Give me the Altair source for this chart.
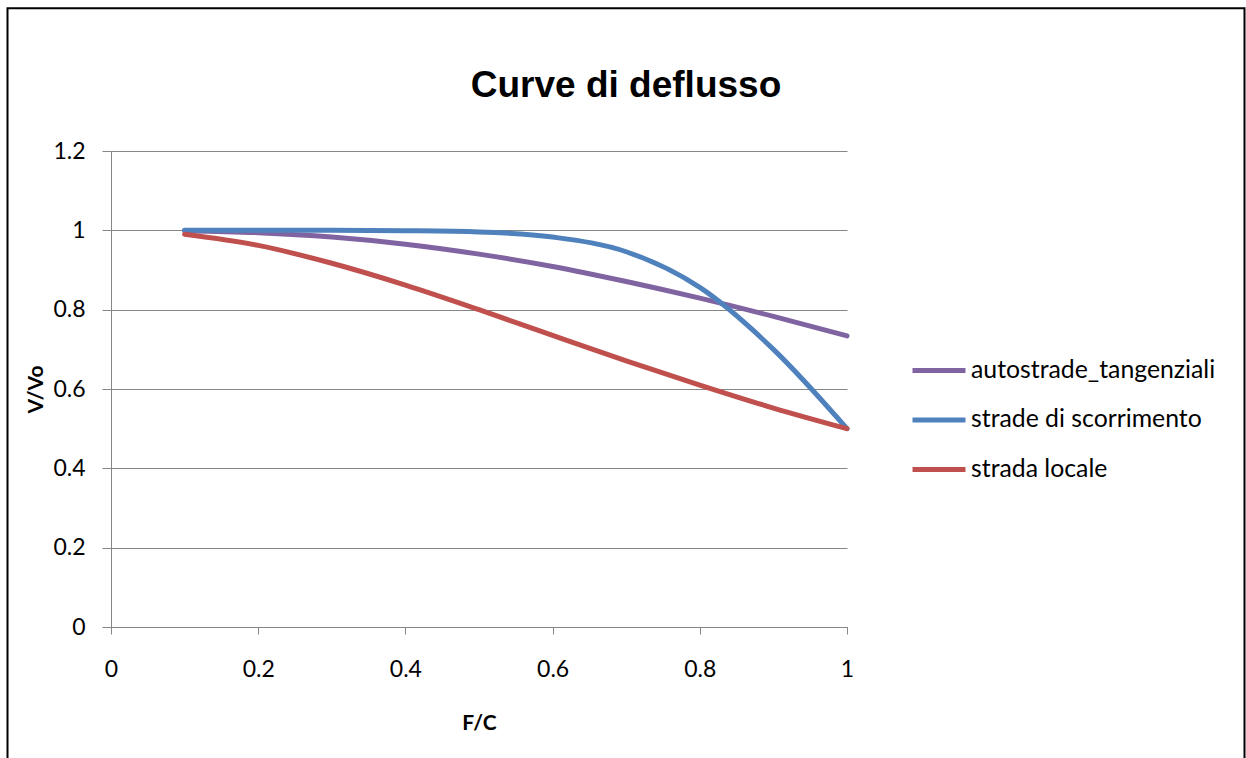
import altair as alt
import pandas as pd

# Flow ratio F/C sampled at 0.1 steps
fc = [0.1, 0.2, 0.3, 0.4, 0.5, 0.6, 0.7, 0.8, 0.9, 1.0]

# Speed ratio V/Vo for each road class
autostrade_tangenziali = [0.999, 0.994, 0.983, 0.965, 0.940, 0.909, 0.871, 0.829, 0.783, 0.734]
strade_di_scorrimento = [1.000, 1.000, 1.000, 0.999, 0.996, 0.983, 0.946, 0.856, 0.700, 0.500]
strada_locale = [0.990, 0.962, 0.917, 0.862, 0.800, 0.735, 0.671, 0.610, 0.552, 0.500]

series_names = ["autostrade_tangenziali", "strade di scorrimento", "strada locale"]
series_values = [autostrade_tangenziali, strade_di_scorrimento, strada_locale]
series_colors = ["#8064A2", "#4F81BD", "#C0504D"]

chart_title = "Curve di deflusso"

rows = []
for name, values in zip(series_names, series_values):
    for x, v in zip(fc, values):
        rows.append({"F/C": x, "V/Vo": v, "serie": name})
df = pd.DataFrame(rows)

LABEL_FONT = "Lato"
GRID = "#868686"

PLOT_W, PLOT_H = 736, 476
PAD_L, PAD_T = 111, 151

lines = alt.Chart(df).mark_line(
    strokeWidth=5, interpolate="monotone", strokeCap="round", strokeJoin="round"
).encode(
    x=alt.X(
        "F/C:Q",
        scale=alt.Scale(domain=[0, 1], nice=False, zero=False),
        axis=alt.Axis(
            values=[0, 0.2, 0.4, 0.6, 0.8, 1.0],
            format="~g",
            grid=False,
            domainColor=GRID,
            tickColor=GRID,
            tickSize=7,
            labelPadding=24,
            labelFlush=False,
            labelBound=False,
            labelOverlap=False,
            labelFontSize=23,
            labelFont=LABEL_FONT,
            labelColor="black",
            title="F/C",
            titleFont=LABEL_FONT,
            titleFontSize=21,
            titleFontWeight="bold",
            titleColor="black",
            titleBaseline="alphabetic",
            titleY=102,
        ),
    ),
    y=alt.Y(
        "V/Vo:Q",
        scale=alt.Scale(domain=[0, 1.2], nice=False),
        axis=alt.Axis(
            values=[0, 0.2, 0.4, 0.6, 0.8, 1.0, 1.2],
            format="~g",
            grid=True,
            gridColor=GRID,
            gridWidth=1.2,
            domainColor=GRID,
            tickColor=GRID,
            tickSize=9,
            labelPadding=17,
            labelFlush=False,
            labelBound=False,
            labelOverlap=False,
            labelFontSize=23,
            labelFont=LABEL_FONT,
            labelColor="black",
            title="V/Vo",
            titleFont=LABEL_FONT,
            titleFontSize=21,
            titleFontWeight="bold",
            titleColor="black",
            titleBaseline="alphabetic",
            titleX=-69,
        ),
    ),
    color=alt.Color(
        "serie:N",
        scale=alt.Scale(domain=series_names, range=series_colors),
        legend=alt.Legend(
            title=None,
            orient="none",
            legendX=815.5,
            legendY=207,
            padding=0,
            symbolType="M-2.65,0H2.65",
            symbolSize=400,
            symbolStrokeWidth=5,
            labelOffset=19.5,
            labelLimit=400,
            labelFont=LABEL_FONT,
            labelFontSize=24.8,
            labelColor="black",
            rowPadding=23.5,
        ),
    ),
)

# Outer frame of the chart
frame = alt.Chart(pd.DataFrame({"k": [0]})).mark_rect(
    fill="white", fillOpacity=0, stroke="black", strokeWidth=2
).encode(
    x=alt.value(7.5 - PAD_L),
    x2=alt.value(1244.5 - PAD_L),
    y=alt.value(8.3 - PAD_T),
    y2=alt.value(720),
)

# Chart heading, centred over the whole figure
heading = alt.Chart(pd.DataFrame({"t": [chart_title]})).mark_text(
    font="Liberation Sans",
    fontSize=37,
    fontWeight="bold",
    color="black",
    align="center",
    baseline="alphabetic",
).encode(
    text="t:N",
    x=alt.value(626 - PAD_L),
    y=alt.value(97 - PAD_T),
)

chart = alt.layer(frame, lines, heading).properties(
    width=PLOT_W,
    height=PLOT_H,
    autosize=alt.AutoSizeParams(type="none"),
    padding={"left": PAD_L, "top": PAD_T, "right": 1246 - PAD_L - PLOT_W, "bottom": 758 - PAD_T - PLOT_H},
    background="white",
).configure_view(stroke=None)

chart.save("out.html", embed_options={"renderer": "svg", "actions": False})
